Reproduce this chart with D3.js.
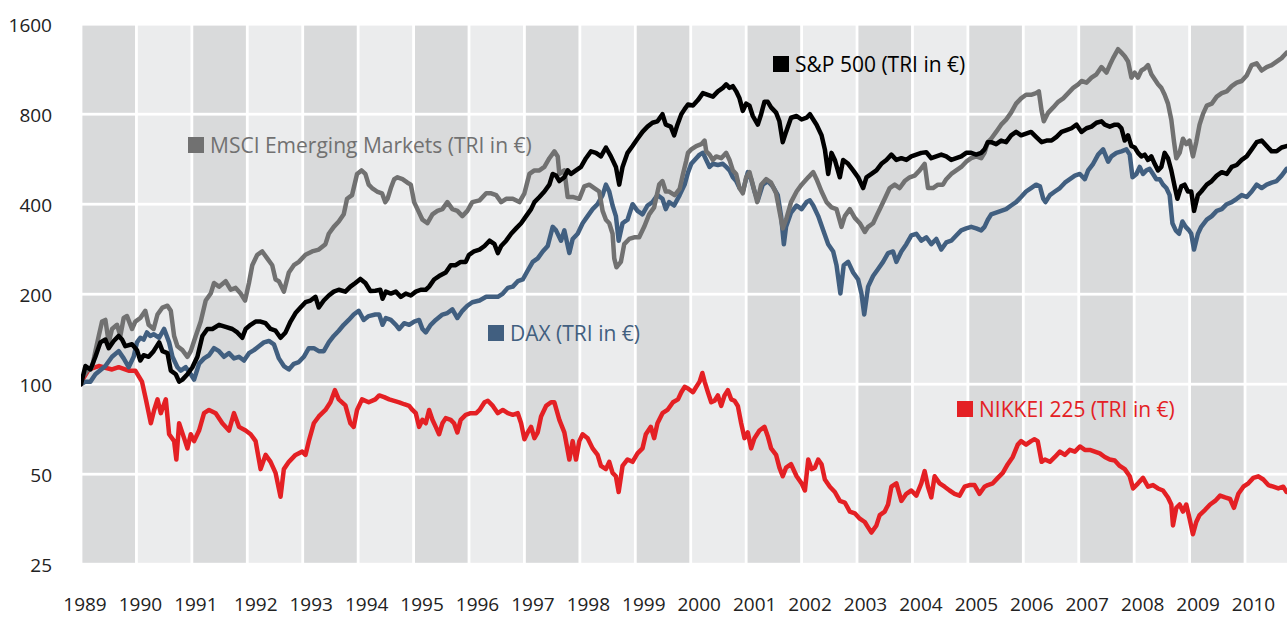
<!DOCTYPE html>
<html>
<head>
<meta charset="utf-8">
<script src="https://cdn.jsdelivr.net/npm/d3@7"></script>
<style>
  html, body { margin: 0; padding: 0; background: #fff; }
  svg { display: block; font-family: "Open Sans", "Noto Sans", sans-serif; }
</style>
</head>
<body>
<svg id="chart" width="1287" height="617"></svg>
<script>
// ---------------- DATA ----------------
const years = d3.range(1989, 2011);                 // x tick labels / year columns
const yTicks = [25, 50, 100, 200, 400, 800, 1600];  // y tick labels (log2 scale)

const seriesNames = ["MSCI Emerging Markets (TRI in €)", "S&P 500 (TRI in €)", "DAX (TRI in €)", "NIKKEI 225 (TRI in €)"];

// [decimal year, index value] — rebased to 100 at start of 1989
const sp500 = [[1989.00,100],[1989.08,115],[1989.17,112],[1989.26,123.5],[1989.35,138],[1989.44,141],[1989.50,132],[1989.59,139.5],[1989.68,145],[1989.74,141],[1989.80,134],[1989.92,136],[1990.01,130],[1990.07,120],[1990.13,125],[1990.22,123.5],[1990.31,129],[1990.41,138],[1990.47,129],[1990.56,127],[1990.62,111],[1990.71,108],[1990.77,102],[1990.83,103.6],[1990.92,108],[1991.01,114],[1991.10,123.5],[1991.19,145],[1991.28,153],[1991.37,153],[1991.49,158],[1991.61,155.5],[1991.73,153],[1991.82,149],[1991.91,143],[1991.97,153],[1992.06,158],[1992.15,162],[1992.24,162],[1992.33,160],[1992.42,153],[1992.51,151],[1992.60,143],[1992.69,149],[1992.78,162],[1992.87,173],[1992.96,180.5],[1993.05,188],[1993.14,190.5],[1993.23,196],[1993.29,180.5],[1993.38,190.5],[1993.47,198],[1993.56,204],[1993.65,207],[1993.77,204],[1993.86,212],[1993.95,218],[1994.04,225],[1994.13,218],[1994.22,205],[1994.31,205.5],[1994.40,207],[1994.44,193],[1994.50,204],[1994.59,201],[1994.68,204],[1994.77,196],[1994.86,201],[1994.95,198],[1995.04,204],[1995.13,207],[1995.22,207],[1995.28,212],[1995.37,224],[1995.46,230],[1995.58,236.5],[1995.67,250],[1995.76,250],[1995.85,256.5],[1995.94,256.5],[1996.00,271],[1996.09,278],[1996.19,282],[1996.28,290],[1996.37,302],[1996.46,294],[1996.52,274.5],[1996.58,290],[1996.67,302],[1996.76,318.5],[1996.85,332],[1996.94,345.5],[1997.03,365],[1997.12,385],[1997.18,406.5],[1997.27,423],[1997.36,441],[1997.45,465],[1997.51,505],[1997.57,498.5],[1997.63,478],[1997.72,492],[1997.78,519],[1997.84,505],[1997.93,519],[1998.02,533],[1998.11,570],[1998.20,601],[1998.29,594],[1998.38,578],[1998.47,619],[1998.56,578],[1998.65,533],[1998.71,465],[1998.77,533],[1998.86,594],[1998.95,626],[1999.04,662],[1999.13,698],[1999.22,727],[1999.31,749],[1999.40,757.5],[1999.49,800],[1999.55,738],[1999.64,727],[1999.70,680],[1999.76,738],[1999.83,800],[1999.89,832],[1999.95,862],[2000.04,855],[2000.13,892],[2000.22,941],[2000.31,928],[2000.40,916],[2000.49,954],[2000.58,980],[2000.64,1007],[2000.70,980],[2000.76,993],[2000.82,954],[2000.88,904],[2000.94,821],[2001.00,868],[2001.06,855],[2001.12,789],[2001.21,738],[2001.27,800],[2001.33,880],[2001.39,880],[2001.45,843],[2001.54,810],[2001.60,757.5],[2001.66,645],[2001.72,698],[2001.81,778.5],[2001.91,789],[2002.00,768],[2002.09,778.5],[2002.15,800],[2002.21,768],[2002.27,738],[2002.36,680],[2002.42,610],[2002.48,505],[2002.54,594],[2002.60,562.5],[2002.69,492],[2002.75,562.5],[2002.84,546],[2002.93,519],[2003.02,492],[2003.11,453],[2003.17,492],[2003.26,505],[2003.35,519],[2003.44,546],[2003.53,562.5],[2003.62,586],[2003.71,562.5],[2003.80,570],[2003.89,562.5],[2003.98,578],[2004.07,586],[2004.16,594],[2004.25,597],[2004.34,570],[2004.43,578],[2004.52,586],[2004.61,578],[2004.70,562.5],[2004.79,570],[2004.88,578],[2004.97,594],[2005.06,594],[2005.15,586],[2005.24,594],[2005.30,610],[2005.36,645],[2005.42,645],[2005.51,635],[2005.60,653],[2005.69,645],[2005.78,680],[2005.87,698],[2005.96,680],[2006.05,689],[2006.14,698],[2006.23,672],[2006.33,645],[2006.42,653],[2006.51,653],[2006.60,672],[2006.69,698],[2006.78,708],[2006.87,718],[2006.96,738],[2007.05,698],[2007.14,718],[2007.23,727],[2007.32,749],[2007.41,757.5],[2007.47,738],[2007.56,727],[2007.65,738],[2007.71,738],[2007.77,718],[2007.83,653],[2007.89,680],[2007.95,626],[2008.01,619],[2008.07,594],[2008.13,578],[2008.19,586],[2008.25,562.5],[2008.31,578],[2008.37,546],[2008.43,519],[2008.49,533],[2008.55,594],[2008.61,570],[2008.67,519],[2008.73,459],[2008.78,417],[2008.85,459],[2008.91,465],[2008.97,441],[2009.03,441],[2009.08,380],[2009.15,429],[2009.21,441],[2009.31,465],[2009.40,478],[2009.49,498.5],[2009.58,512],[2009.67,505],[2009.76,533],[2009.85,541],[2009.94,562.5],[2010.03,578],[2010.12,610],[2010.21,645],[2010.30,653],[2010.39,626],[2010.48,601],[2010.57,601],[2010.66,619],[2010.75,626]];

const dax = [[1989.00,100],[1989.08,102],[1989.17,102],[1989.26,108],[1989.44,115],[1989.56,123.5],[1989.68,129],[1989.77,122],[1989.86,114],[1989.95,123.5],[1990.01,138],[1990.07,143],[1990.13,141],[1990.19,149],[1990.25,145],[1990.31,147],[1990.41,143],[1990.50,153],[1990.59,138],[1990.65,123.5],[1990.74,114],[1990.80,111],[1990.89,114],[1990.98,108],[1991.04,103.6],[1991.13,117],[1991.22,122],[1991.31,125],[1991.40,132],[1991.49,129],[1991.58,123.5],[1991.67,127],[1991.76,122],[1991.85,123.5],[1991.94,120],[1992.03,127],[1992.12,130],[1992.21,134],[1992.30,138],[1992.39,139.5],[1992.48,136],[1992.57,122],[1992.66,115],[1992.75,112],[1992.84,117],[1992.93,118.6],[1993.02,123.5],[1993.11,132],[1993.20,132],[1993.29,129],[1993.38,129],[1993.47,138],[1993.56,145],[1993.65,151],[1993.74,158],[1993.83,164],[1993.92,171],[1994.01,176],[1994.10,164],[1994.19,169],[1994.31,171],[1994.38,171],[1994.44,158],[1994.50,166.5],[1994.59,164],[1994.68,158],[1994.74,153],[1994.83,160],[1994.92,158],[1995.01,162],[1995.10,164],[1995.16,153],[1995.22,149],[1995.31,158],[1995.40,164],[1995.52,171],[1995.61,173],[1995.70,178],[1995.79,166.5],[1995.88,176],[1995.97,183],[1996.06,188],[1996.19,190.5],[1996.31,196],[1996.43,196],[1996.52,196],[1996.61,201],[1996.70,210],[1996.79,212],[1996.88,221],[1996.97,224],[1997.06,240],[1997.15,256.5],[1997.24,263.5],[1997.33,278],[1997.42,290],[1997.51,336],[1997.57,327],[1997.66,302],[1997.72,327],[1997.81,274.5],[1997.87,306],[1997.96,318.5],[1998.05,345.5],[1998.14,365],[1998.23,385],[1998.32,400],[1998.41,429],[1998.47,465],[1998.53,441],[1998.59,396],[1998.65,365],[1998.70,302],[1998.77,345.5],[1998.86,355],[1998.95,400],[1999.04,380],[1999.13,370],[1999.22,396],[1999.31,406.5],[1999.40,429],[1999.49,417],[1999.55,385],[1999.61,406.5],[1999.70,396],[1999.80,429],[1999.89,465],[1999.95,510],[2000.01,546],[2000.10,570],[2000.16,586],[2000.22,594],[2000.28,562.5],[2000.34,533],[2000.40,546],[2000.49,541],[2000.58,546],[2000.64,533],[2000.70,519],[2000.76,492],[2000.82,478],[2000.88,453],[2000.94,441],[2001.03,512],[2001.09,485],[2001.15,441],[2001.21,412],[2001.30,465],[2001.39,478],[2001.48,459],[2001.57,429],[2001.63,365],[2001.68,294],[2001.72,336],[2001.81,375],[2001.91,396],[2002.00,385],[2002.09,406.5],[2002.15,412],[2002.21,396],[2002.30,365],[2002.39,327],[2002.48,294],[2002.57,278],[2002.63,250],[2002.70,201],[2002.76,250],[2002.84,256.5],[2002.93,236.5],[2003.02,224],[2003.08,201],[2003.13,171],[2003.20,212],[2003.29,230],[2003.38,243],[2003.47,256.5],[2003.56,274.5],[2003.65,278],[2003.71,256.5],[2003.80,278],[2003.89,294],[2003.98,314.5],[2004.07,318.5],[2004.16,302],[2004.25,310],[2004.34,294],[2004.43,306],[2004.52,282],[2004.61,298],[2004.70,302],[2004.79,314.5],[2004.88,327],[2004.97,332],[2005.06,336],[2005.15,332],[2005.24,327],[2005.30,336],[2005.36,355],[2005.42,370],[2005.51,375],[2005.60,380],[2005.69,385],[2005.78,396],[2005.87,406.5],[2005.96,423],[2006.05,441],[2006.14,453],[2006.23,465],[2006.30,459],[2006.36,417],[2006.40,406.5],[2006.48,429],[2006.57,441],[2006.66,453],[2006.75,472],[2006.84,485],[2006.93,498.5],[2007.02,505],[2007.11,485],[2007.17,519],[2007.26,546],[2007.35,586],[2007.44,610],[2007.53,555],[2007.59,578],[2007.68,594],[2007.77,601],[2007.86,610],[2007.92,586],[2007.97,492],[2008.04,505],[2008.10,533],[2008.16,505],[2008.22,519],[2008.28,525],[2008.34,505],[2008.40,485],[2008.46,485],[2008.52,465],[2008.58,453],[2008.64,429],[2008.69,345.5],[2008.75,327],[2008.81,318.5],[2008.87,350],[2008.93,336],[2008.99,327],[2009.03,318.5],[2009.08,282],[2009.15,318.5],[2009.21,336],[2009.31,355],[2009.40,365],[2009.49,380],[2009.58,385],[2009.67,400],[2009.76,406.5],[2009.85,417],[2009.94,429],[2010.03,423],[2010.12,441],[2010.21,465],[2010.30,453],[2010.39,465],[2010.48,472],[2010.57,478],[2010.66,498.5],[2010.75,525]];

const msciEM = [[1989.00,100],[1989.02,105],[1989.11,111],[1989.20,114],[1989.26,129],[1989.32,145],[1989.38,162],[1989.44,164],[1989.50,138],[1989.56,153],[1989.65,158],[1989.71,145],[1989.77,166.5],[1989.83,169],[1989.92,153],[1989.98,162],[1990.07,166.5],[1990.16,176],[1990.22,158],[1990.31,153],[1990.38,171],[1990.47,180.5],[1990.56,183],[1990.62,176],[1990.68,145],[1990.74,134],[1990.83,130],[1990.92,123.5],[1990.98,129],[1991.07,145],[1991.16,162],[1991.25,190.5],[1991.34,201],[1991.40,218],[1991.49,212],[1991.61,221],[1991.70,207],[1991.79,210],[1991.88,201],[1991.96,190.5],[1992.03,218],[1992.09,250],[1992.18,271],[1992.27,278],[1992.36,263.5],[1992.45,250],[1992.51,224],[1992.57,221],[1992.66,204],[1992.75,236.5],[1992.84,250],[1992.93,256.5],[1993.05,271],[1993.17,278],[1993.29,282],[1993.41,294],[1993.47,318.5],[1993.56,336],[1993.65,350],[1993.74,370],[1993.80,417],[1993.89,429],[1993.98,505],[1994.06,519],[1994.13,505],[1994.19,465],[1994.25,453],[1994.34,441],[1994.43,435],[1994.49,406.5],[1994.53,417],[1994.59,453],[1994.65,485],[1994.71,492],[1994.80,485],[1994.89,472],[1994.95,465],[1995.01,406.5],[1995.07,385],[1995.16,355],[1995.25,345.5],[1995.34,370],[1995.43,380],[1995.52,385],[1995.61,406.5],[1995.70,385],[1995.79,380],[1995.88,365],[1995.97,380],[1996.06,406.5],[1996.19,412],[1996.31,435],[1996.40,435],[1996.49,429],[1996.58,406.5],[1996.67,417],[1996.79,417],[1996.91,406.5],[1997.00,435],[1997.09,505],[1997.18,519],[1997.27,519],[1997.36,533],[1997.45,570],[1997.54,601],[1997.60,578],[1997.63,505],[1997.72,519],[1997.78,423],[1997.87,423],[1997.99,417],[1998.08,459],[1998.17,465],[1998.26,453],[1998.35,441],[1998.41,380],[1998.47,355],[1998.53,345.5],[1998.59,318.5],[1998.62,263.6],[1998.66,246],[1998.74,256.5],[1998.80,294],[1998.89,306],[1998.98,310],[1999.07,310],[1999.16,336],[1999.25,370],[1999.34,390.5],[1999.43,465],[1999.49,478],[1999.55,441],[1999.61,441],[1999.71,429],[1999.80,450],[1999.86,505],[1999.92,560],[1999.95,594],[2000.01,610],[2000.10,626],[2000.19,635],[2000.25,653],[2000.28,601],[2000.34,586],[2000.40,562.5],[2000.46,578],[2000.55,570],[2000.64,594],[2000.70,562.5],[2000.76,519],[2000.82,505],[2000.88,453],[2000.94,435],[2001.00,492],[2001.06,512],[2001.12,465],[2001.20,406.5],[2001.27,465],[2001.36,485],[2001.45,472],[2001.54,435],[2001.60,380],[2001.66,332],[2001.72,355],[2001.81,406.5],[2001.91,441],[2002.00,465],[2002.12,492],[2002.21,512],[2002.27,485],[2002.36,441],[2002.45,406.5],[2002.54,390.5],[2002.63,385],[2002.72,336],[2002.78,365],[2002.87,385],[2002.96,360],[2003.05,345.5],[2003.14,323],[2003.20,336],[2003.29,345.5],[2003.35,365],[2003.41,385],[2003.50,417],[2003.59,453],[2003.68,465],[2003.77,453],[2003.86,478],[2003.95,492],[2004.04,498.5],[2004.13,519],[2004.22,546],[2004.28,453],[2004.37,453],[2004.46,465],[2004.55,465],[2004.61,485],[2004.70,505],[2004.79,519],[2004.88,533],[2004.97,555],[2005.06,570],[2005.15,578],[2005.24,570],[2005.30,594],[2005.36,645],[2005.42,662],[2005.51,698],[2005.60,738],[2005.69,767],[2005.78,810],[2005.87,868],[2005.96,904],[2006.05,929],[2006.14,929],[2006.23,941],[2006.28,954],[2006.33,821],[2006.37,757.5],[2006.45,810],[2006.54,843],[2006.63,880],[2006.72,904],[2006.81,941],[2006.90,980],[2006.99,1007],[2007.05,1033],[2007.14,1020],[2007.23,1060],[2007.32,1088],[2007.41,1150],[2007.50,1102],[2007.56,1168],[2007.62,1232],[2007.71,1320],[2007.77,1285],[2007.83,1250],[2007.89,1200],[2007.95,1060],[2008.01,1102],[2008.07,1060],[2008.13,1120],[2008.19,1137],[2008.25,1168],[2008.31,1088],[2008.37,1047],[2008.43,1007],[2008.49,980],[2008.55,929],[2008.61,868],[2008.67,767],[2008.72,645],[2008.76,570],[2008.82,594],[2008.88,662],[2008.94,635],[2009.00,653],[2009.06,578],[2009.12,645],[2009.18,738],[2009.24,800],[2009.31,855],[2009.40,868],[2009.49,916],[2009.58,941],[2009.67,954],[2009.76,993],[2009.85,1020],[2009.94,1033],[2010.03,1078],[2010.12,1168],[2010.21,1184],[2010.30,1120],[2010.39,1150],[2010.48,1168],[2010.57,1200],[2010.66,1232],[2010.75,1285]];

const nikkei = [[1989.00,100],[1989.02,103],[1989.14,112],[1989.32,115],[1989.56,112],[1989.68,114],[1989.86,111],[1989.98,111],[1990.10,102],[1990.17,89],[1990.26,74],[1990.32,82],[1990.38,89],[1990.44,80],[1990.53,89],[1990.59,68],[1990.68,64.5],[1990.72,56],[1990.77,74],[1990.86,66],[1990.92,61],[1990.98,68],[1991.04,64.5],[1991.13,70],[1991.22,80],[1991.31,82],[1991.43,80],[1991.55,74],[1991.67,70],[1991.76,80],[1991.85,72],[1991.97,70],[1992.06,68],[1992.15,64.5],[1992.24,52],[1992.33,58],[1992.42,55],[1992.51,50.5],[1992.60,42],[1992.66,52],[1992.75,55],[1992.87,58],[1992.99,59.5],[1993.05,58],[1993.11,64.5],[1993.20,74],[1993.29,78],[1993.41,82],[1993.50,87],[1993.58,95.5],[1993.65,89],[1993.77,85],[1993.86,74],[1993.92,72],[1993.98,82],[1994.07,89],[1994.19,87],[1994.31,89],[1994.38,91.7],[1994.47,90.5],[1994.56,89],[1994.65,88],[1994.74,87],[1994.83,85.7],[1994.92,84.6],[1994.98,82],[1995.04,80],[1995.10,72],[1995.16,76],[1995.22,74],[1995.28,82],[1995.34,76],[1995.40,72],[1995.46,68],[1995.52,74],[1995.58,77],[1995.67,76],[1995.73,74],[1995.79,69],[1995.85,76],[1995.94,79],[1996.03,80],[1996.13,80],[1996.19,82],[1996.28,87],[1996.34,88],[1996.43,84.6],[1996.52,80],[1996.61,82],[1996.70,80],[1996.79,79],[1996.88,80],[1996.94,74],[1997.00,65.4],[1997.06,69],[1997.12,72],[1997.18,66],[1997.24,69],[1997.30,78],[1997.39,84.6],[1997.48,87],[1997.54,87],[1997.63,76],[1997.72,69],[1997.81,56],[1997.87,64.5],[1997.93,56],[1997.99,64.5],[1998.05,68],[1998.14,66],[1998.23,61],[1998.32,58],[1998.38,53.3],[1998.47,52],[1998.53,55],[1998.59,50.5],[1998.65,49.2],[1998.70,43.6],[1998.77,53.3],[1998.86,56],[1998.95,55],[1999.04,58.7],[1999.13,61],[1999.19,68],[1999.28,72],[1999.34,66],[1999.40,74],[1999.49,80],[1999.58,82],[1999.68,87],[1999.77,89],[1999.83,94],[1999.89,98],[1999.95,96.8],[2000.04,94],[2000.10,98],[2000.16,102],[2000.21,109],[2000.25,102],[2000.31,94],[2000.37,87],[2000.43,88],[2000.49,91.7],[2000.55,84.6],[2000.61,91.7],[2000.67,95.5],[2000.73,89],[2000.79,88],[2000.85,84.6],[2000.91,74],[2000.97,66],[2001.03,69],[2001.09,61],[2001.15,66],[2001.24,70],[2001.33,72],[2001.39,67],[2001.45,61],[2001.54,58],[2001.60,52.6],[2001.66,49.2],[2001.72,52.6],[2001.81,54],[2001.91,49.2],[2002.00,46.6],[2002.06,44.1],[2002.12,56],[2002.18,52],[2002.24,52.6],[2002.30,56],[2002.36,54],[2002.42,48],[2002.51,45.4],[2002.60,43.6],[2002.69,40.7],[2002.78,40.2],[2002.87,37.5],[2002.96,37],[2003.05,35.5],[2003.14,34.6],[2003.20,33.2],[2003.26,31.9],[2003.35,33.7],[2003.41,36.5],[2003.50,37.5],[2003.56,39.6],[2003.62,45.4],[2003.71,46.6],[2003.80,40.7],[2003.89,43],[2003.98,44.1],[2004.07,42.4],[2004.16,46.6],[2004.22,51.2],[2004.28,45.4],[2004.34,41.8],[2004.40,49.2],[2004.49,46.6],[2004.58,45.4],[2004.67,44.1],[2004.76,43],[2004.85,42.4],[2004.94,45.4],[2005.03,46],[2005.12,46],[2005.21,43],[2005.30,45.4],[2005.36,46],[2005.45,46.6],[2005.54,48.6],[2005.63,50.5],[2005.72,54],[2005.81,57.1],[2005.90,62.8],[2005.96,64.5],[2006.05,62.8],[2006.14,64.5],[2006.20,65.4],[2006.26,64.5],[2006.33,55],[2006.39,56],[2006.48,55],[2006.57,57.1],[2006.66,59.5],[2006.75,58],[2006.84,60.3],[2006.93,59.5],[2007.02,61.9],[2007.11,60.3],[2007.20,60.3],[2007.29,59.5],[2007.38,58.7],[2007.47,57.1],[2007.56,56],[2007.65,55.6],[2007.74,53.3],[2007.83,52],[2007.92,49.2],[2007.98,44.8],[2008.07,46.6],[2008.16,48.6],[2008.25,45.4],[2008.34,46],[2008.43,44.8],[2008.52,44.1],[2008.61,41.8],[2008.67,39.6],[2008.70,33.7],[2008.76,38.6],[2008.82,39.6],[2008.88,37.5],[2008.94,39.6],[2009.00,35.5],[2009.06,31.5],[2009.12,34.6],[2009.18,36.5],[2009.28,38],[2009.37,39.6],[2009.46,40.7],[2009.55,42.4],[2009.64,41.8],[2009.73,41.3],[2009.80,38.6],[2009.88,43],[2009.97,45.4],[2010.06,46.6],[2010.15,48.6],[2010.24,49.2],[2010.33,48],[2010.42,46],[2010.51,45.4],[2010.60,44.8],[2010.69,45.4],[2010.75,43.6]];

// ---------------- LAYOUT / STYLE ----------------
const W = 1287, H = 617;
const x0 = 81, yearStep = 55.43;
const yTop = 24.2, yBottom = 564.2;
const gap = 1.4;

const colors = { em: "#717171", sp: "#000000", dax: "#415f80", nk: "#e42024" };
const bandDark = "#d9dadb", bandLight = "#ebeced";

const svg = d3.select("#chart");

const x = d3.scaleLinear()
  .domain([years[0], years[years.length - 1] + 1])
  .range([x0, x0 + yearStep * years.length]);

const y = d3.scaleLog().base(2)
  .domain([yTicks[0], yTicks[yTicks.length - 1]])
  .range([yBottom, yTop]);

// background cells (year columns x doubling rows), white gaps form the grid
const rows = d3.pairs(yTicks); // [lo, hi]
const cells = [];
years.forEach((yr, i) => rows.forEach(([lo, hi]) => cells.push({ yr, i, lo, hi })));

svg.append("g").selectAll("rect").data(cells).join("rect")
  .attr("x", d => x(d.yr) + gap)
  .attr("width", d => x(d.yr + 1) - x(d.yr) - 2 * gap)
  .attr("y", d => y(d.hi) + gap)
  .attr("height", d => y(d.lo) - y(d.hi) - 2 * gap)
  .attr("fill", d => d.i % 2 === 0 ? bandDark : bandLight);

// y axis labels
const yAxis = svg.append("g")
  .attr("transform", "translate(52,0)")
  .call(d3.axisLeft(y).tickValues(yTicks).tickSize(0).tickPadding(0).tickFormat(d3.format("d")));
yAxis.select(".domain").remove();
yAxis.selectAll("text")
  .attr("font-family", "'Open Sans', sans-serif")
  .attr("font-size", 19)
  .attr("fill", "#222")
  .attr("dy", "0.36em");

// x axis labels
svg.append("g").selectAll("text").data(years).join("text")
  .attr("x", d => x(d) + (d < 1992 ? 4 : 8.5))
  .attr("y", 611)
  .attr("text-anchor", "middle")
  .attr("font-size", 19)
  .attr("fill", "#222")
  .text(d => d);

// clip
svg.append("clipPath").attr("id", "plotclip")
  .append("rect").attr("x", x0).attr("y", 0).attr("width", W - x0).attr("height", yBottom);

const line = d3.line()
  .x(d => x(d[0]))
  .y(d => y(d[1]))
  .curve(d3.curveLinear);

const series = [
  { data: nikkei, color: colors.nk },
  { data: dax, color: colors.dax },
  { data: msciEM, color: colors.em },
  { data: sp500, color: colors.sp }
];

svg.append("g").attr("clip-path", "url(#plotclip)")
  .selectAll("path").data(series).join("path")
  .attr("d", d => line(d.data))
  .attr("fill", "none")
  .attr("stroke", d => d.color)
  .attr("stroke-width", 4.5)
  .attr("stroke-linejoin", "round")
  .attr("stroke-linecap", "round");

// legend labels (annotation positions)
const legends = [
  { name: seriesNames[0], color: colors.em, sx: 188, sy: 137 },
  { name: seriesNames[1], color: colors.sp, sx: 773, sy: 56 },
  { name: seriesNames[2], color: colors.dax, sx: 488, sy: 325 },
  { name: seriesNames[3], color: colors.nk, sx: 957, sy: 401 }
];
const lg = svg.append("g").selectAll("g").data(legends).join("g");
lg.append("rect")
  .attr("x", d => d.sx).attr("y", d => d.sy)
  .attr("width", 16).attr("height", 16)
  .attr("fill", d => d.color);
lg.append("text")
  .attr("x", d => d.sx + 22).attr("y", d => d.sy + 16)
  .attr("font-size", 21)
  .attr("fill", d => d.color)
  .text(d => d.name);
</script>
</body>
</html>
